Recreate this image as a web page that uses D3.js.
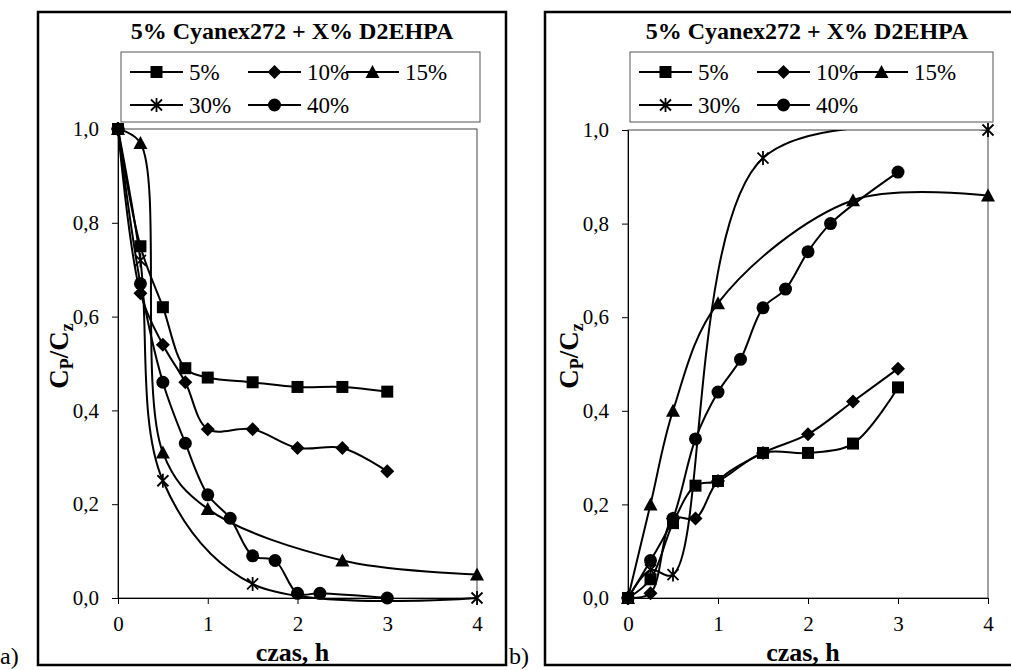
<!DOCTYPE html>
<html>
<head>
<meta charset="utf-8">
<script src="https://cdn.jsdelivr.net/npm/d3@7"></script>
<style>
  body { margin: 0; background: #fff; }
  svg { display: block; }
</style>
</head>
<body>
<svg width="1011" height="670"></svg>
<script>
const title = "5% Cyanex272 + X% D2EHPA";
const seriesNames = ["5%", "10%", "15%", "30%", "40%"];
const xTicks = [0, 1, 2, 3, 4];
const yTicks = [0, 0.2, 0.4, 0.6, 0.8, 1.0];

// panel a) — [czas h, Cp/Cz]
const a5  = [[0, 1], [0.25, 0.75], [0.5, 0.62], [0.75, 0.49], [1, 0.47], [1.5, 0.46], [2, 0.45], [2.5, 0.45], [3, 0.44]];
const a10 = [[0, 1], [0.25, 0.65], [0.5, 0.54], [0.75, 0.46], [1, 0.36], [1.5, 0.36], [2, 0.32], [2.5, 0.32], [3, 0.27]];
const a15 = [[0, 1], [0.25, 0.97], [0.5, 0.31], [1, 0.19], [2.5, 0.08], [4, 0.05]];
const a30 = [[0, 1], [0.25, 0.72], [0.5, 0.25], [1.5, 0.03], [4, 0]];
const a40 = [[0, 1], [0.25, 0.67], [0.5, 0.46], [0.75, 0.33], [1, 0.22], [1.25, 0.17], [1.5, 0.09], [1.75, 0.08], [2, 0.01], [2.25, 0.01], [3, 0]];

// panel b)
const b5  = [[0, 0], [0.25, 0.04], [0.5, 0.16], [0.75, 0.24], [1, 0.25], [1.5, 0.31], [2, 0.31], [2.5, 0.33], [3, 0.45]];
const b10 = [[0, 0], [0.25, 0.01], [0.5, 0.17], [0.75, 0.17], [1, 0.25], [1.5, 0.31], [2, 0.35], [2.5, 0.42], [3, 0.49]];
const b15 = [[0, 0], [0.25, 0.2], [0.5, 0.4], [1, 0.63], [2.5, 0.85], [4, 0.86]];
const b30 = [[0, 0], [0.25, 0.06], [0.5, 0.05], [1.5, 0.94], [4, 1.0]];
const b40 = [[0, 0], [0.25, 0.08], [0.5, 0.17], [0.75, 0.34], [1, 0.44], [1.25, 0.51], [1.5, 0.62], [1.75, 0.66], [2, 0.74], [2.25, 0.8], [3, 0.91]];

const FONT = "'Liberation Serif', 'Times New Roman', serif";
const svg = d3.select("svg");

const markerPaths = {
  square: "M-6,-6h12v12h-12z",
  diamond: "M0,-7L7,0L0,7L-7,0Z",
  triangle: "M0,-7L7,6L-7,6Z",
  star: "M-5.5,-5.5L5.5,5.5M-5.5,5.5L5.5,-5.5M0,-7V7"
};
const markerOf = ["square", "diamond", "triangle", "star", "circle"];

function drawMarker(g, type, cx, cy) {
  if (type === "circle") {
    g.append("circle").attr("cx", cx).attr("cy", cy).attr("r", 6.5).attr("fill", "#000");
  } else if (type === "star") {
    g.append("path").attr("d", markerPaths.star).attr("transform", `translate(${cx},${cy})`)
      .attr("stroke", "#000").attr("stroke-width", 1.8).attr("fill", "none");
  } else {
    g.append("path").attr("d", markerPaths[type]).attr("transform", `translate(${cx},${cy})`).attr("fill", "#000");
  }
}

const fmt = d => d3.format(".1f")(d).replace(".", ",");

function drawPanel(p, series) {
  const g = svg.append("g");

  g.append("rect").attr("x", p.frameX).attr("y", 12).attr("width", p.frameW).attr("height", 653)
    .attr("fill", "none").attr("stroke", "#000").attr("stroke-width", 2.5);

  const x = d3.scaleLinear().domain([0, 4]).range([p.left, p.right]);
  const y = d3.scaleLinear().domain([0, 1]).range([598, p.top]);

  g.append("rect").attr("x", p.left).attr("y", p.top).attr("width", p.right - p.left).attr("height", 598 - p.top)
    .attr("fill", "none").attr("stroke", "#444").attr("stroke-width", 1);

  const yAxis = g.append("g").attr("transform", `translate(${p.left},0)`)
    .call(d3.axisLeft(y).tickValues(yTicks).tickFormat(fmt).tickSize(6).tickSizeOuter(0).tickPadding(13));
  const xAxis = g.append("g").attr("transform", "translate(0,598)")
    .call(d3.axisBottom(x).tickValues(xTicks).tickFormat(d3.format("d")).tickSize(6).tickSizeOuter(0).tickPadding(12));
  [yAxis, xAxis].forEach(a => {
    a.selectAll("text").attr("fill", "#000").style("font-family", FONT).style("font-size", "21px");
    a.selectAll("line").attr("stroke", "#000");
    a.select(".domain").attr("stroke", "#000");
  });

  // title
  g.append("text").attr("x", p.titleX).attr("y", 39).attr("text-anchor", "middle")
    .style("font-family", FONT).style("font-size", "24px").style("font-weight", "bold").text(title);

  // legend
  g.append("rect").attr("x", p.legX).attr("y", 52).attr("width", p.legW).attr("height", 70)
    .attr("fill", "#fff").attr("stroke", "#555").attr("stroke-width", 1);
  const colX = [p.legX + 9, p.legX + 127, p.legX + 225];
  const rowY = [72, 105];
  seriesNames.forEach((name, i) => {
    const lx = colX[i % 3], ly = rowY[Math.floor(i / 3)];
    g.append("line").attr("x1", lx).attr("x2", lx + 53).attr("y1", ly).attr("y2", ly)
      .attr("stroke", "#000").attr("stroke-width", 2);
    drawMarker(g, markerOf[i], lx + 26.5, ly);
    g.append("text").attr("x", lx + 59).attr("y", ly + 8)
      .style("font-family", FONT).style("font-size", "23px").text(name);
  });

  // y label
  const yl = g.append("text").attr("transform", `translate(${p.left - 50},356) rotate(-90)`)
    .attr("text-anchor", "middle").style("font-family", FONT).style("font-weight", "bold").style("font-size", "27px");
  yl.append("tspan").text("C");
  yl.append("tspan").style("font-size", "18px").attr("dy", 5).text("P");
  yl.append("tspan").attr("dy", -5).text("/C");
  yl.append("tspan").style("font-size", "18px").attr("dy", 5).text("z");

  // x label
  g.append("text").attr("x", (p.left + p.right) / 2 - 5).attr("y", 661).attr("text-anchor", "middle")
    .style("font-family", FONT).style("font-weight", "bold").style("font-size", "26px").text("czas, h");

  // panel letter
  g.append("text").attr("x", p.letterX).attr("y", 664)
    .style("font-family", FONT).style("font-size", "24px").text(p.letter);

  // series, clipped to the plot area like the original
  const clipId = "clip-" + p.letter.replace(")", "");
  svg.append("clipPath").attr("id", clipId).append("rect")
    .attr("x", p.left - 4).attr("y", p.top).attr("width", p.right - p.left + 8).attr("height", 598 - p.top + 4);

  const line = d3.line().x(d => x(d[0])).y(d => y(d[1])).curve(d3.curveCatmullRom.alpha(0.5));
  const lines = g.append("g").attr("clip-path", `url(#${clipId})`);
  series.forEach(s => {
    lines.append("path").datum(s).attr("d", line)
      .attr("fill", "none").attr("stroke", "#000").attr("stroke-width", 2);
  });
  series.forEach((s, i) => {
    s.forEach(d => drawMarker(g, markerOf[i], x(d[0]), y(d[1])));
  });
}

drawPanel({ letter: "a)", letterX: 0, frameX: 38, frameW: 468, left: 118, right: 477, top: 129,
  titleX: 292, legX: 121, legW: 359 }, [a5, a10, a15, a30, a40]);
drawPanel({ letter: "b)", letterX: 509, frameX: 545, frameW: 470, left: 628, right: 988, top: 130,
  titleX: 807, legX: 630, legW: 363 }, [b5, b10, b15, b30, b40]);
</script>
</body>
</html>
